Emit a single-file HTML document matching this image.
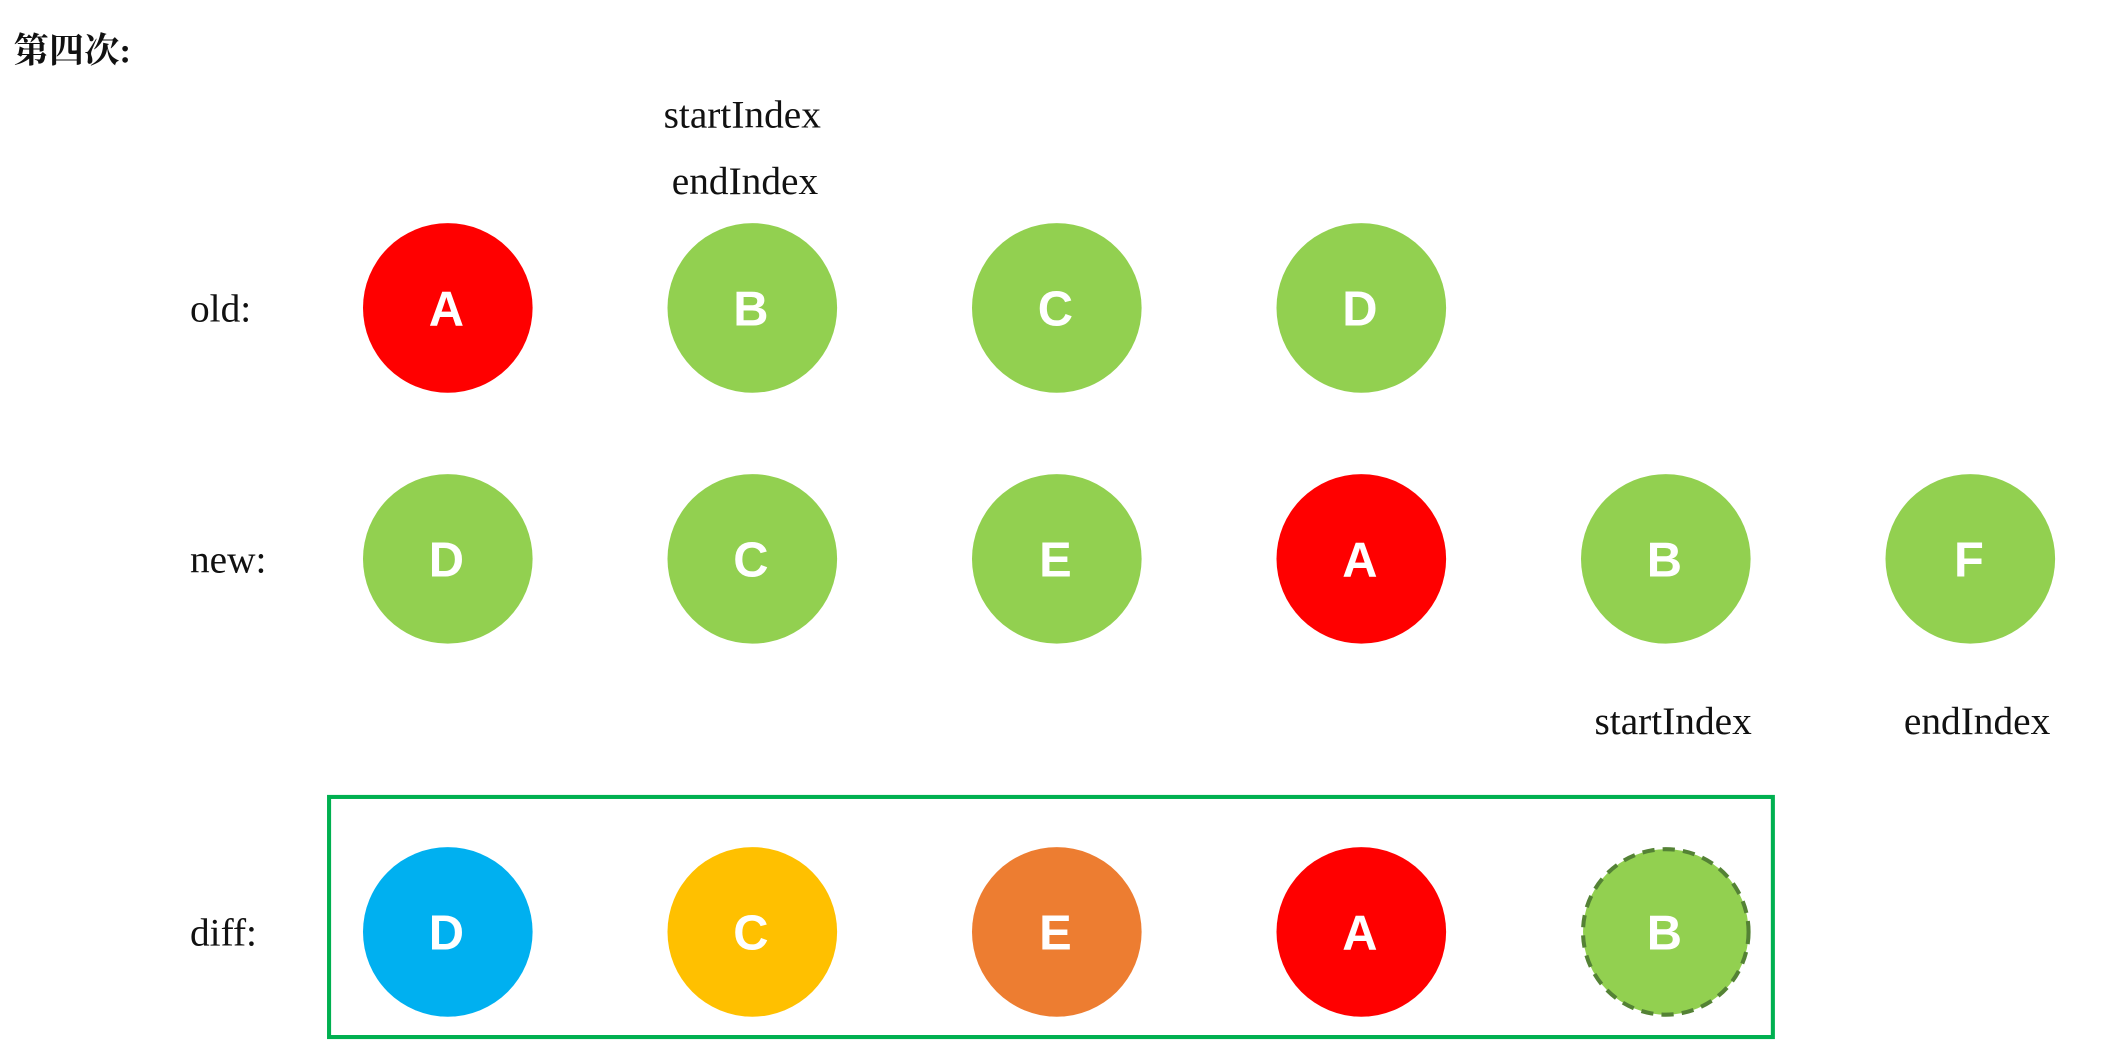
<!DOCTYPE html>
<html><head><meta charset="utf-8"><style>
html,body{margin:0;padding:0;background:#fff;width:2106px;height:1054px;overflow:hidden}
svg{display:block}
.lbl{font-family:"Liberation Serif","Noto Serif CJK SC",serif;font-size:29px;fill:#111}
.node{font-family:"Liberation Sans","DejaVu Sans",sans-serif;font-weight:bold;font-size:36px;fill:#fff}
</style></head><body>
<svg id="chart" width="2106" height="1054" viewBox="0 0 1552 777" preserveAspectRatio="none" xmlns="http://www.w3.org/2000/svg">
<text x="10" y="46" style="font-family:'Liberation Serif','Noto Serif CJK SC',serif;font-size:26px;font-weight:bold;fill:#111">第四次:</text>
<text class="lbl" x="547" y="94" text-anchor="middle">startIndex</text>
<text class="lbl" x="549" y="143" text-anchor="middle">endIndex</text>
<text class="lbl" x="1233" y="541" text-anchor="middle">startIndex</text>
<text class="lbl" x="1457" y="541" text-anchor="middle">endIndex</text>
<text class="lbl" x="140" y="237">old:</text>
<text class="lbl" x="140" y="422">new:</text>
<text class="lbl" x="140" y="697">diff:</text>
<rect x="242.5" y="587.5" width="1064" height="177" fill="none" stroke="#00b050" stroke-width="3"/>
<g id="nodes"></g>
</svg>
<script>
const oldLetters = ["A","B","C","D"];
const oldColors = ["#ff0000","#92d050","#92d050","#92d050"];
const newLetters = ["D","C","E","A","B","F"];
const newColors = ["#92d050","#92d050","#92d050","#ff0000","#92d050","#92d050"];
const diffLetters = ["D","C","E","A","B"];
const diffColors = ["#00b0f0","#ffc000","#ed7d31","#ff0000","#92d050"];
const diffDashed = [false,false,false,false,true];

const colX = i => 330 + i * 224.4;
const rowY = r => [227, 412, 687][r];
const NS = "http://www.w3.org/2000/svg";
const g = document.getElementById("nodes");
function drawRow(letters, colors, r, name, dashed){
  letters.forEach((L, i) => {
    const c = document.createElementNS(NS, "circle");
    c.setAttribute("cx", colX(i));
    c.setAttribute("cy", rowY(r));
    c.setAttribute("r", 62.5);
    c.setAttribute("fill", colors[i]);
    if (dashed && dashed[i]) {
      c.setAttribute("stroke", "#548235");
      c.setAttribute("stroke-width", "3");
      c.setAttribute("stroke-dasharray", "9 6");
      c.setAttribute("r", 61);
    }
    
    
    g.appendChild(c);
    const t = document.createElementNS(NS, "text");
    t.setAttribute("x", colX(i) - 1);
    t.setAttribute("y", rowY(r) + 13);
    t.setAttribute("text-anchor", "middle");
    t.setAttribute("class", "node");
    t.textContent = L;
    
    
    g.appendChild(t);
  });
}
drawRow(oldLetters, oldColors, 0, "old");
drawRow(newLetters, newColors, 1, "new");
drawRow(diffLetters, diffColors, 2, "diff", diffDashed);
</script>
</body></html>
